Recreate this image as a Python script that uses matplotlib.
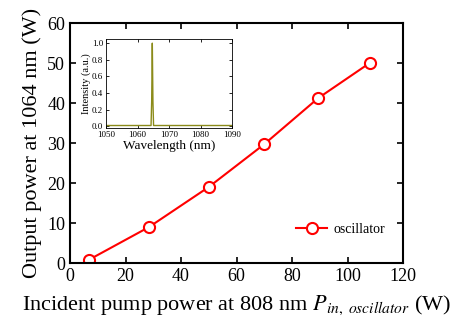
import matplotlib
matplotlib.use("Agg")
import matplotlib.pyplot as plt

plt.rcParams['font.family'] = ['Liberation Serif', 'DejaVu Serif']
plt.rcParams['mathtext.fontset'] = 'stix'

# main data
pump_power = [6.8, 28.5, 50, 70, 89.4, 108]
output_power = [0.8, 9, 19, 29.7, 41.2, 50]

# inset spectrum
wavelength = [1050, 1064.3, 1064.5, 1064.7, 1064.9, 1065.1, 1090]
intensity = [0.01, 0.01, 0.3, 1.0, 0.3, 0.01, 0.01]

fig = plt.figure(figsize=(4.57, 3.28), dpi=100)
ax = fig.add_axes([70/457, 1 - 263/328, 333/457, 240/328])

ax.plot(pump_power, output_power, color='red', lw=1.5, marker='o', ms=8,
        mfc='white', mec='red', mew=1.5, label='oscillator')
ax.set_xlim(0, 120)
ax.set_ylim(0, 60)
ax.set_xticks(range(0, 121, 20))
ax.set_yticks(range(0, 61, 10))
ax.tick_params(direction='in', top=True, right=True, labelsize=13, length=4, width=1.2)
for s in ax.spines.values():
    s.set_linewidth(1.5)
ax.set_xlabel('Incident pump power at 808 nm $P_{in,\\ oscillator}$ (W)', fontsize=16, labelpad=6)
ax.set_ylabel('Output power at 1064 nm (W)', fontsize=16, labelpad=4)
ax.legend(loc='lower right', bbox_to_anchor=(0.985, 0.06), frameon=False, fontsize=10,
          handlelength=2.2, handletextpad=0.5)

ins = fig.add_axes([106/457, 1 - 128/328, 126/457, 89/328])
ins.plot(wavelength, intensity, color='#8b8b1a', lw=1)
ins.set_xlim(1050, 1090)
ins.set_ylim(-0.02, 1.05)
ins.set_xticks(range(1050, 1091, 10))
ins.set_yticks([0.0, 0.2, 0.4, 0.6, 0.8, 1.0])
ins.set_yticklabels(['0.0', '0.2', '0.4', '0.6', '0.8', '1.0'])
ins.tick_params(direction='in', top=True, right=True, labelsize=6.5, length=2, width=0.6, pad=2)
for s in ins.spines.values():
    s.set_linewidth(0.6)
ins.set_xlabel('Wavelength (nm)', fontsize=9.5, labelpad=1)
ins.set_ylabel('Intensity (a.u.)', fontsize=7.5, labelpad=1)

fig.savefig('out.png', dpi=100)
